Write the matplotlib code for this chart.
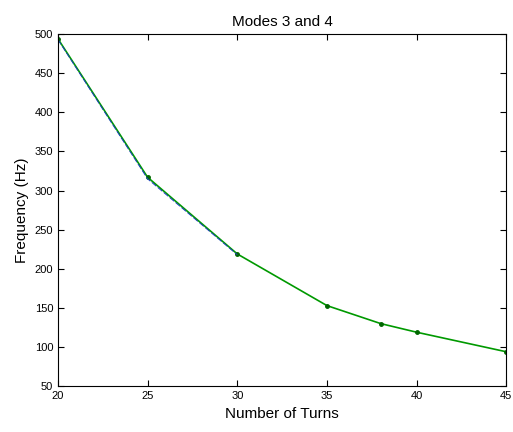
import matplotlib
matplotlib.use("Agg")
import matplotlib.pyplot as plt

# mode 3 (blue) and mode 4 (green) frequencies vs number of turns
turns_mode3 = [20, 25, 30]
freq_mode3 = [493, 315, 218]

turns_mode4 = [20, 25, 30, 35, 38, 40, 45]
freq_mode4 = [494, 317, 219, 153, 130, 119, 94]

x_ticks = [20, 25, 30, 35, 40, 45]
y_ticks = [50, 100, 150, 200, 250, 300, 350, 400, 450, 500]

plt.rcParams["font.family"] = ["Liberation Sans", "DejaVu Sans"]

fig = plt.figure(figsize=(5.13, 4.32), dpi=100)
ax = fig.add_axes([0.113, 0.106, 0.874, 0.815])

ax.plot(turns_mode4, freq_mode4, color="#009900", linewidth=1.2,
        marker=".", markersize=5, markerfacecolor="#006600",
        markeredgecolor="#006600")
ax.plot(turns_mode3, freq_mode3, color="#1a3fbf", linewidth=0.7,
        linestyle=(0, (6, 2)))

ax.set_xlim(20, 45)
ax.set_ylim(50, 500)
ax.set_xticks(x_ticks)
ax.set_yticks(y_ticks)
ax.tick_params(direction="in", labelsize=8, length=4, top=True, right=True)
ax.set_xlabel("Number of Turns", fontsize=11)
ax.set_ylabel("Frequency (Hz)", fontsize=11)
ax.set_title("Modes 3 and 4", fontsize=11)

fig.savefig("out.png", dpi=100)
